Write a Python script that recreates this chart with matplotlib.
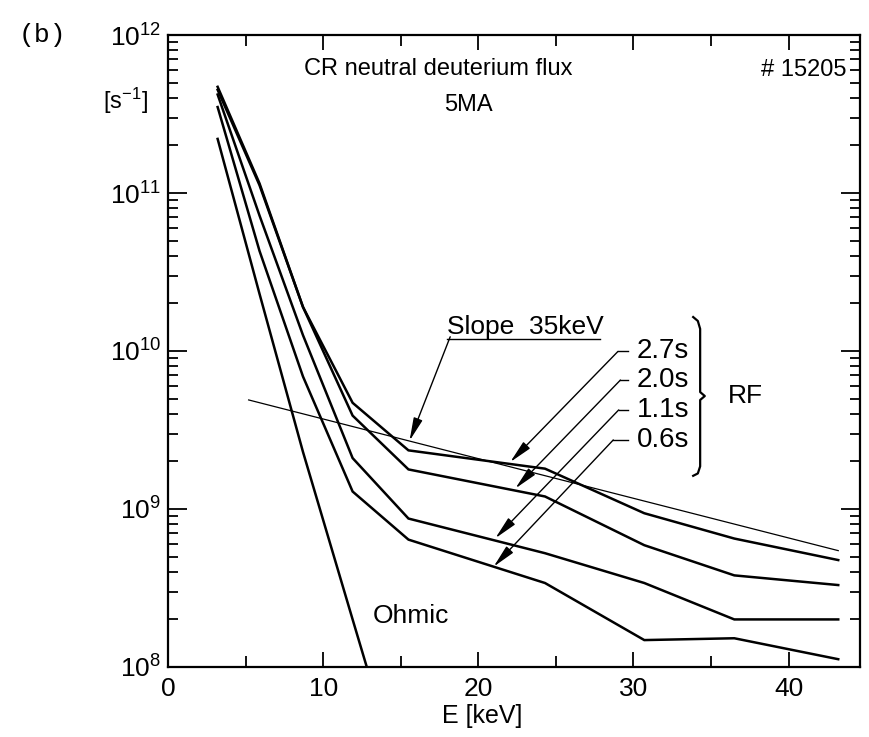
import matplotlib
matplotlib.use('Agg')
import matplotlib.pyplot as plt
from matplotlib.ticker import MultipleLocator, LogLocator, NullFormatter
import numpy as np

plt.rcParams.update({'font.family': 'Liberation Sans',
                     'mathtext.fontset': 'custom',
                     'mathtext.rm': 'Liberation Sans',
                     'mathtext.it': 'Liberation Sans:italic',
                     'font.size': 17})

# energy channels [keV]
energy = [3.2, 5.9, 8.7, 11.9, 15.5, 24.3, 30.7, 36.5, 43.2]

# CR neutral deuterium flux [1/s] for the RF phases
flux_27s = [4.7e11, 1.15e11, 1.9e10, 4.7e9, 2.35e9, 1.8e9, 9.4e8, 6.5e8, 4.75e8]
flux_20s = [4.5e11, 1.12e11, 1.9e10, 3.9e9, 1.78e9, 1.2e9, 5.9e8, 3.8e8, 3.3e8]
flux_11s = [4.2e11, 7.2e10, 1.26e10, 2.1e9, 8.7e8, 5.25e8, 3.4e8, 2.0e8, 2.0e8]
flux_06s = [3.5e11, 4.3e10, 6.9e9, 1.29e9, 6.4e8, 3.4e8, 1.48e8, 1.52e8, 1.12e8]

# ohmic phase
energy_ohm = [3.2, 5.9, 8.7, 11.9, 15.5]
flux_ohm = [2.2e11, 2.3e10, 2.3e9, 2.0e8, 1.3e7]

# fitted slope (35 keV)
energy_fit = [5.2, 43.2]
flux_fit = [4.9e9, 5.45e8]

labels = ['2.7s', '2.0s', '1.1s', '0.6s']

fig = plt.figure(figsize=(8.69, 7.37), dpi=100)
ax = fig.add_axes([0.1933, 0.0950, 0.7963, 0.8575])

for f in [flux_27s, flux_20s, flux_11s, flux_06s]:
    ax.plot(energy, f, color='k', lw=1.8, solid_joinstyle='miter')
ax.plot(energy_ohm, flux_ohm, color='k', lw=1.8)
ax.plot(energy_fit, flux_fit, color='k', lw=0.9)

ax.set_yscale('log')
ax.set_xlim(0, 44.6)
ax.set_ylim(1e8, 1e12)

ax.xaxis.set_major_locator(MultipleLocator(10))
ax.xaxis.set_minor_locator(MultipleLocator(5))
ax.yaxis.set_major_locator(LogLocator(base=10, numticks=10))
ax.yaxis.set_minor_locator(LogLocator(base=10, subs=np.arange(2, 10), numticks=10))
ax.yaxis.set_minor_formatter(NullFormatter())
ax.tick_params(which='both', direction='in', top=True, right=True, labelsize=19, width=1.3)
ax.tick_params(axis='y', which='major', length=14, pad=5)
ax.tick_params(axis='y', which='minor', length=7)
ax.tick_params(axis='x', which='major', length=11, pad=7)
ax.tick_params(axis='x', which='minor', length=8)
for s in ax.spines.values():
    s.set_linewidth(1.6)

ax.set_xlabel('E [keV]', fontsize=18)
ax.xaxis.set_label_coords(0.454, -0.058)

# texts
ax.text(17.4, 10**11.785, 'CR neutral deuterium flux', ha='center', va='center', fontsize=17)
ax.text(19.35, 10**11.56, '5MA', ha='center', va='center', fontsize=17)
ax.text(38.2, 10**11.78, '# 15205', ha='left', va='center', fontsize=17)
ax.text(13.2, 10**8.32, 'Ohmic', ha='left', va='center', fontsize=19)
fig.text(0.1185, 0.863, r'[s$^{-1}$]', ha='left', va='center', fontsize=17)
fig.text(0.022, 0.952, '(b)', ha='left', va='center', fontsize=19, family='Liberation Mono')

# slope annotation
ax.text(17.98, 10**10.11, 'Slope  35keV', ha='left', va='baseline', fontsize=19)
ax.plot([17.98, 27.87], [10**10.074, 10**10.074], color='k', lw=1.0)
arrow_kw = dict(arrowstyle='-|>,head_length=1.4,head_width=0.28', lw=1.0, color='k',
                shrinkA=0, shrinkB=0, mutation_scale=10)
ax.annotate('', xy=(15.57, 10**9.432), xytext=(18.19, 10**10.09), arrowprops=arrow_kw)

# time labels with leaders
text_y = [9.997, 9.816, 9.627, 9.437]
corner_x = [29.0, 29.16, 29.05, 28.7]
tip_x = [22.06, 22.39, 21.1, 20.99]
tip_y = [9.297, 9.13, 8.815, 8.635]
for lab, ty, cx, tx, tyy in zip(labels, text_y, corner_x, tip_x, tip_y):
    ax.text(30.2, 10**ty, lab, ha='left', va='center', fontsize=20)
    ax.plot([cx, 29.65], [10**ty, 10**ty], color='k', lw=1.0)
    ax.annotate('', xy=(tx, 10**tyy), xytext=(cx, 10**ty), arrowprops=arrow_kw)

# brace for RF
bx = [33.85, 34.15, 34.3, 34.3, 34.6, 34.3, 34.3, 34.15, 33.85]
by = [10.215, 10.19, 10.14, 9.74, 9.715, 9.69, 9.27, 9.225, 9.21]
ax.plot(bx, [10**v for v in by], color='k', lw=1.6)
ax.text(36.1, 10**9.715, 'RF', ha='left', va='center', fontsize=19)

fig.savefig('out.png', dpi=100)
